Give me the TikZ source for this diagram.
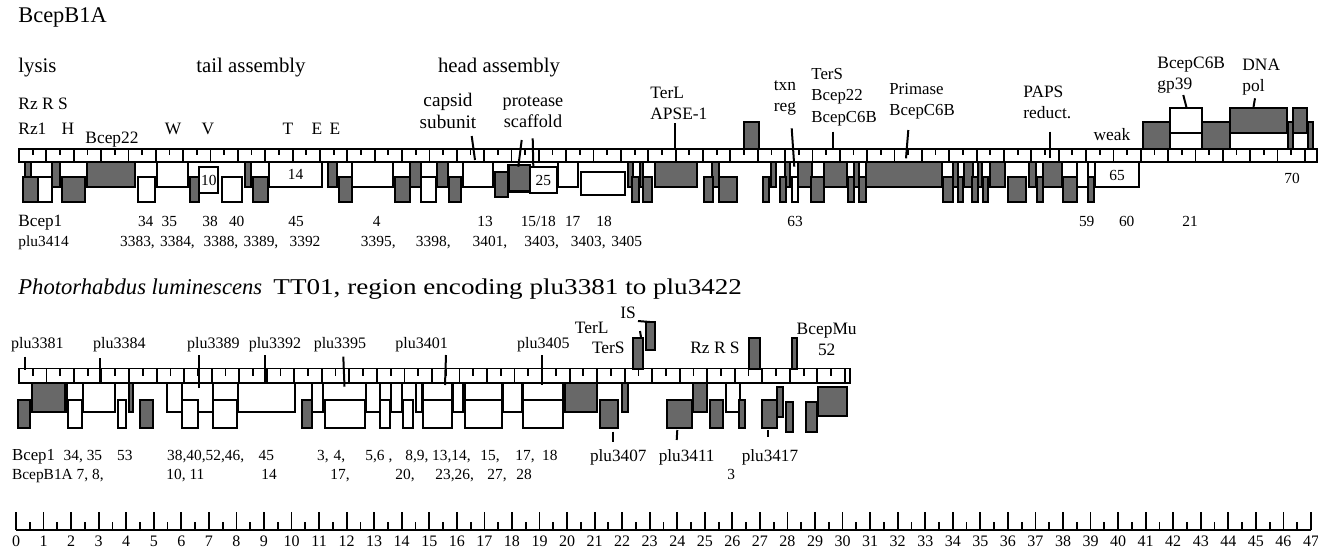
\documentclass[tikz,border=0pt]{standalone}
\usepackage{fontspec}
\setmainfont{Liberation Serif}
\usepackage{xcolor}
\usepackage{graphicx}
\definecolor{GeneGrey}{HTML}{686868}
\colorlet{dk}{GeneGrey}
\usepackage{tikz}

\begin{document}
\begin{tikzpicture}[x=0.5pt,y=-0.5pt,
  every node/.style={inner sep=0pt},
  hdr/.style={font=\fontsize{10.4}{12}\selectfont},
  lab/.style={font=\fontsize{8.7}{10.6}\selectfont,align=center},
  plu/.style={font=\fontsize{8}{9.5}\selectfont,text height=1.6ex,text depth=0.5ex},
  num/.style={font=\fontsize{7.7}{9}\selectfont,text height=1.6ex,text depth=0.5ex},
  sc/.style={font=\fontsize{8}{9}\selectfont,text height=1.6ex,text depth=0.5ex},
  gene/.style={draw=black,line width=1pt},
  rul/.style={line width=0.9pt},
  pin/.style={line width=1pt}]
\useasboundingbox (0,0) rectangle (1318,548);

% ---------------- BcepB1A ----------------
\node[hdr,font=\fontsize{11.2}{13}\selectfont,anchor=west] (title1) at (18,17) {BcepB1A};
\node[hdr,anchor=west] (lysis) at (18,68) {lysis};
\node[hdr] (tail) at (251,68) {tail assembly};
\node[hdr] (head) at (499,68) {head assembly};

% ruler
\draw[rul] (19,149) rectangle (1316.7,162);
\foreach \i in {1,...,47} \draw[rul] ({19+\i*27.36},149) -- ++(0,13);
\foreach \i in {0,...,46} \draw[rul] ({19+(\i+0.5)*27.36},149) -- ++(0,6);

% genes above the ruler
\foreach \a/\b/\c in {744.3/759.3/dk,1143.3/1170/dk,1170/1201.7/white,1201.7/1230/dk,
  1230/1288.3/white,1288.3/1293.3/dk,1293.3/1308.3/white,1308.3/1313.3/dk}
  \draw[gene,fill=\c] (\a,122) rectangle (\b,149);
\foreach \a/\b/\c in {1170/1201.7/white,1230/1286.7/dk,1293.3/1306.7/dk}
  \draw[gene,fill=\c] (\a,108.3) rectangle (\b,133.3);

% genes below the ruler
\foreach \a/\b/\c in {25/30.7/dk,51.7/60/dk,86.7/135/dk,156.7/188.3/white,245/250.7/dk,
  269.3/321.7/white,328/337/dk,351.7/393.3/white,410/420.7/dk,436.7/448.3/dk,
  463.3/493.3/white,558/578/white,628/633/dk,640/643/dk,655/696.7/dk,711.7/719.3/dk,
  770.7/776/dk,785/790/dk,798.3/811.7/dk,824/846.7/dk,854/859.3/dk,866/941.7/dk,
  953.3/957.7/dk,964/973.3/dk,977.7/981.7/dk,990/1005/dk,1029.3/1036/dk,
  1043.3/1061.7/dk,1076.7/1088.3/white,1095/1139.3/white}
  \draw[gene,fill=\c] (\a,162) rectangle (\b,186.7);
\foreach \a/\b/\c in {23.3/38.3/dk,38.3/51.7/white,61.7/85/dk,138.3/155/white,190/199.3/dk,
  221.7/241.7/white,253.3/268.3/dk,339.3/351.7/dk,395/410/dk,420.7/436/white,449/460.7/dk,
  631.7/639/dk,643.3/651.7/dk,704.3/713.3/dk,719.3/736.7/dk,762.7/769/dk,780/786/dk,
  791.7/798.3/white,811/824/dk,848.3/854/dk,859.3/866/dk,942.7/953.3/dk,957.7/963.3/dk,
  971.7/978.3/dk,982.7/988.3/dk,1008.3/1026/dk,1036.7/1043.3/dk,1062.7/1076.7/dk,
  1088.3/1094/dk}
  \draw[gene,fill=\c] (\a,176.7) rectangle (\b,201.7);
\draw[gene,fill=white] (199.3,167) rectangle (218.3,193);
\draw[gene,fill=dk] (495,171.7) rectangle (508.3,196.7);
\draw[gene,fill=dk,line width=1.4pt] (508.3,165) rectangle (530,191.7);
\draw[gene,fill=white] (530,166.7) rectangle (556.7,193.3);
\draw[gene,fill=white] (580.7,171.7) rectangle (625,195);

\node[num] (n10) at (208.8,180) {10};
\node[num] (n14) at (295.5,174.5) {14};
\node[num] (n25) at (543.3,180) {25};
\node[num] (n65) at (1117,175) {65};
\node[num] (n70) at (1292,178) {70};

% gene names
\node[lab,anchor=west] (rzrs) at (18,104) {Rz R S};
\node[lab,anchor=west] (rz1) at (18,129) {Rz1};
\node[lab] (h) at (68,129) {H};
\node[lab] (bcep22) at (112,140) {Bcep22};
\node[lab] (w) at (173,129) {W};
\node[lab] (v) at (208,129) {V};
\node[lab] (t) at (288,129) {T};
\node[lab] (e1) at (317,129) {E};
\node[lab] (e2) at (335,129) {E};
\node[lab,font=\fontsize{9.6}{10.6}\selectfont] (capsid) at (448,111) {capsid\\subunit};
\node[lab,font=\fontsize{9.1}{10.6}\selectfont] (protease) at (533,112) {protease\\scaffold};
\node[lab,align=left,anchor=west] (terl) at (650,103) {TerL\\APSE-1};
\node[lab] (txn) at (785,98) {txn\\reg};
\node[lab,align=left,anchor=west,font=\fontsize{8.4}{10.8}\selectfont] (ters) at (811,97) {TerS\\Bcep22\\BcepC6B};
\node[lab,align=left,anchor=west,font=\fontsize{8.4}{10.6}\selectfont] (primase) at (889,101) {Primase\\BcepC6B};
\node[lab,align=left,anchor=west] (paps) at (1023,102) {PAPS\\reduct.};
\node[lab] (weak) at (1112,135) {weak};
\node[lab,align=left,anchor=west] (gp39) at (1157,75) {BcepC6B\\gp39};
\node[lab,align=left,anchor=west] (dnapol) at (1242,77) {DNA\\pol};

\draw[pin] (471.7,136) -- (475,160);
\draw[pin] (521.7,140) -- (518.3,166.7);
\draw[pin] (532.7,138.3) -- (533.3,166.7);
\draw[pin] (675,123.3) -- (675,150);
\draw[pin] (791.7,128.3) -- (794.3,166.7);
\draw[pin] (833.3,131.7) -- (833.3,150);
\draw[pin] (908.3,130) -- (906,158.3);
\draw[pin] (1050,131.7) -- (1050,158.3);
\draw[pin] (1183.3,95) -- (1186.7,108.3);
\draw[pin] (1255,98.3) -- (1253.3,108.3);

% homologues
\node[num,font=\fontsize{8.6}{9}\selectfont,anchor=west] (hb1) at (18,221) {Bcep1};
\node[num,anchor=west] (hplu) at (18,241.5) {plu3414};
\foreach \x/\t [count=\k] in {145.7/34,169.3/35,210/38,236.7/40,296/45,376.7/4,485/13,
  538.3/15\slash18,572.7/17,604/18,795/63,1086.7/59,1126.7/60,1190/21}
  \node[num] (ha\k) at (\x,221) {\t};
\foreach \x/\t [count=\k] in {137.5/{3383,},177.5/{3384,},221/{3388,},261/{3389,},305/3392,
  378.3/{3395,},433.3/{3398,},490/{3401,},541.7/{3403,},588.3/{3403,},626.7/3405}
  \node[num] (hp\k) at (\x,241.5) {\t};

% ---------------- Photorhabdus ----------------
\node[hdr,font=\fontsize{11.3}{13}\selectfont,anchor=west] (title2) at (18,289)
  {\textit{Photorhabdus luminescens}\ \ \scalebox{1.2}[1]{TT01, region encoding plu3381 to plu3422}};

\draw[rul] (19,368.5) rectangle (850,383);
\foreach \i in {1,...,30} \draw[rul] ({19+\i*27.53},368.5) -- ++(0,14.5);
\foreach \i in {0,...,29} \draw[rul] ({19+(\i+0.5)*27.53},368.5) -- ++(0,7);

\foreach \a/\b/\c in {633.3/643.3/dk,749.3/760/dk,791.7/797.3/dk}
  \draw[gene,fill=\c] (\a,338.3) rectangle (\b,368.5);
\draw[gene,fill=dk] (646,321.7) rectangle (655,350);

\foreach \a/\b/\c in {31.7/65/dk,66.7/83.3/white,83.3/115/white,129.3/133.3/dk,166.7/181.7/white,
  181.7/213.3/white,213.3/238.3/white,238.3/295/white,311.7/323.3/white,366/380/white,
  391/401.7/white,416/421.7/white,422.7/451.7/white,453.3/463.3/white,465/501.7/white,
  503.3/521.7/white,523.3/563.3/white,565/596.7/dk,621.7/628.3/dk,693.3/706.7/dk,
  725.7/740/white}
  \draw[gene,fill=\c] (\a,383) rectangle (\b,411.7);
\foreach \a/\b/\c in {18.3/30/dk,68.3/81.7/white,118.3/126/white,140/153.3/dk,181.7/198.3/white,
  213.3/236.7/white,301.7/311.7/dk,325/365/white,380/390/white,402.7/413.3/white,
  422.7/451.7/white,465/501.7/white,523.3/563.3/white,600/618.3/dk,666.7/691.7/dk,
  710/723.3/dk,739.3/745/dk,761.7/776.7/dk}
  \draw[gene,fill=\c] (\a,400) rectangle (\b,428.3);
\draw[gene,fill=dk] (776.7,386.7) rectangle (783.3,416.7);
\draw[gene,fill=dk] (786,401.7) rectangle (793.3,431.7);
\draw[gene,fill=dk] (805.7,401.7) rectangle (817.3,431.7);
\draw[gene,fill=dk] (818.3,386.7) rectangle (846.7,416);

\foreach \x/\t [count=\k] in {37.3/plu3381,119.3/plu3384,213.3/plu3389,275/plu3392,
  340/plu3395,421.7/plu3401,543.3/plu3405}
  \node[plu] (pl\k) at (\x,343) {\t};
\draw[pin] (25,356.7) -- (25,370);
\draw[pin] (100,358) -- (100,383);
\draw[pin] (199.3,355) -- (199.3,388);
\draw[pin] (265,355) -- (265,381.7);
\draw[pin] (343.3,356.7) -- (344.5,386.7);
\draw[pin] (446,355) -- (445,385);
\draw[pin] (541.7,355) -- (541.7,385);

\node[lab] (pterl) at (591.7,328.3) {TerL};
\node[lab] (pters) at (608.3,348.3) {TerS};
\node[lab] (pis) at (628,313.3) {IS};
\draw[pin] (638,321) -- (650,322);
\draw[pin] (640,331) -- (641,337);
\node[lab] (prz) at (715,348.3) {Rz R S};
\node[lab] (pmu) at (826.7,339) {BcepMu\\52};

\node[plu,font=\fontsize{8.6}{9.5}\selectfont] (p3407) at (618.3,456.7) {plu3407};
\node[plu,font=\fontsize{8.6}{9.5}\selectfont] (p3411) at (686.7,456.7) {plu3411};
\node[plu,font=\fontsize{8.6}{9.5}\selectfont] (p3417) at (770,456.7) {plu3417};
\draw[pin] (612.7,431.7) -- (612.7,441.7);
\draw[pin] (677.3,430) -- (676.7,440);
\draw[pin] (767.7,430) -- (767.7,436.7);

\node[num,font=\fontsize{8.4}{9}\selectfont,anchor=west] (qb1) at (11.7,455) {Bcep1};
\foreach \x/\t [count=\k] in {63.3/{34, 35},116.7/53,166.7/{38,40,52,46,},258.3/45,316.7/{3,},
  333.3/{4,},365/{5,6 ,},405/{8,9,},431.7/{13,14,},480/{15,},515/{17,},541.7/18}
  \node[num,anchor=west] (qa\k) at (\x,455) {\t};
\node[num,anchor=west] (qb2) at (11.7,474) {BcepB1A 7, 8,};
\foreach \x/\t [count=\k] in {166/{10, 11},261/14,330/{17,},395/{20,},435/{23,26,},487/{27,},
  516/28,727/3}
  \node[num,anchor=west] (qc\k) at (\x,474) {\t};

% ---------------- scale ----------------
\draw[rul] (16,530) -- (1311,530);
\foreach \i in {0,...,47} {
  \draw[rul] ({16+\i*27.553},512) -- ++(0,18);
  \node[sc] (s\i) at ({16+\i*27.553},541) {\i};
}
\foreach \i in {0,...,46} \draw[rul] ({16+(\i+0.5)*27.553},522) -- ++(0,8);
\end{tikzpicture}
\end{document}
